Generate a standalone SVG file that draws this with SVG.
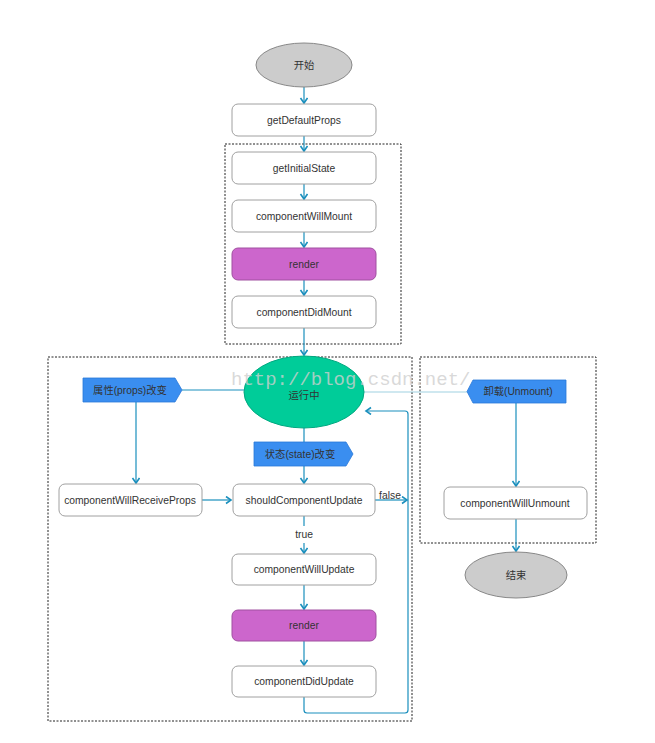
<svg xmlns="http://www.w3.org/2000/svg" width="655" height="743" viewBox="0 0 655 743">
<style>
.box{fill:#fff;stroke:#a0a0a0;stroke-width:1}
.rend{fill:#cc66cc;stroke:#a050a0;stroke-width:1}
.tag{fill:#3a8ef0;stroke:#2a78d8;stroke-width:0.8}
.t{font-family:"Liberation Sans",Arial,"Noto Sans CJK SC",sans-serif;font-size:10.3px;fill:#333;text-anchor:middle}
.dash{fill:none;stroke:#222;stroke-width:1;stroke-dasharray:2,1.5}
.c{fill:none;stroke:#1a8fbd;stroke-width:1.2}
.cl{fill:none;stroke:#9fd2e2;stroke-width:1.2}
</style>
<defs>
<marker id="a" markerWidth="10" markerHeight="10" refX="6" refY="4" orient="auto" markerUnits="userSpaceOnUse">
<path d="M1,0.5 L6,4 L1,7.5" fill="none" stroke="#1a8fbd" stroke-width="1.6"/>
</marker>
</defs>
<rect width="655" height="743" fill="#fff"/>
<rect class="dash" x="225" y="144" width="176" height="200"/>
<rect class="dash" x="48" y="357" width="364" height="364"/>
<rect class="dash" x="420" y="357" width="176" height="186"/>
<g id="connectors">
<line class="c" x1="304" y1="87" x2="304" y2="103" marker-end="url(#a)"/>
<line class="c" x1="304" y1="136" x2="304" y2="151" marker-end="url(#a)"/>
<line class="c" x1="304" y1="184" x2="304" y2="199" marker-end="url(#a)"/>
<line class="c" x1="304" y1="232" x2="304" y2="247" marker-end="url(#a)"/>
<line class="c" x1="304" y1="280" x2="304" y2="295" marker-end="url(#a)"/>
<line class="c" x1="304" y1="328" x2="304" y2="355" marker-end="url(#a)"/>
<line class="c" x1="182" y1="390" x2="244" y2="390"/>
<line class="c" x1="136" y1="402" x2="136" y2="483" marker-end="url(#a)"/>
<line class="c" x1="202" y1="500" x2="231" y2="500" marker-end="url(#a)"/>
<line class="c" x1="304" y1="428" x2="304" y2="442"/>
<line class="c" x1="304" y1="466" x2="304" y2="483" marker-end="url(#a)"/>
<line class="c" x1="375" y1="500" x2="407" y2="500" marker-end="url(#a)"/>
<line class="c" x1="304" y1="516" x2="304" y2="526"/>
<line class="c" x1="304" y1="543" x2="304" y2="553" marker-end="url(#a)"/>
<line class="c" x1="304" y1="585" x2="304" y2="609" marker-end="url(#a)"/>
<line class="c" x1="304" y1="641" x2="304" y2="665" marker-end="url(#a)"/>
<path class="c" d="M304,697 V710 Q304,713 307,713 H405 Q408,713 408,710 V414 Q408,411 405,411 H366" marker-end="url(#a)"/>
<line class="cl" x1="364" y1="392" x2="467" y2="392"/>
<line class="c" x1="516" y1="403" x2="516" y2="486" marker-end="url(#a)"/>
<line class="c" x1="516" y1="519" x2="516" y2="551" marker-end="url(#a)"/>
</g>
<g id="start"><ellipse cx="304" cy="65" rx="48" ry="22" fill="#cccccc" stroke="#888"/><text class="t" x="304" y="69">开始</text></g>
<g id="getDefaultProps"><rect class="box" x="232" y="104" width="144" height="32" rx="6"/><text class="t" x="304" y="124">getDefaultProps</text></g>
<g id="getInitialState"><rect class="box" x="232" y="152" width="144" height="32" rx="6"/><text class="t" x="304" y="172">getInitialState</text></g>
<g id="componentWillMount"><rect class="box" x="232" y="200" width="144" height="32" rx="6"/><text class="t" x="304" y="220">componentWillMount</text></g>
<g id="render1"><rect class="rend" x="232" y="248" width="144" height="32" rx="6"/><text class="t" x="304" y="268">render</text></g>
<g id="componentDidMount"><rect class="box" x="232" y="296" width="144" height="32" rx="6"/><text class="t" x="304" y="316">componentDidMount</text></g>
<g id="running"><ellipse cx="304" cy="392" rx="60" ry="36" fill="#00cc99" stroke="#00a880"/><text class="t" x="304" y="399">运行中</text></g>
<g id="propsChange"><path class="tag" d="M83,378 H175 L182,390 L175,402 H83 Z"/><text class="t" x="130" y="394">属性(props)改变</text></g>
<g id="stateChange"><path class="tag" d="M254,442 H346 L353,454 L346,466 H254 Z"/><text class="t" x="300" y="458">状态(state)改变</text></g>
<g id="componentWillReceiveProps"><rect class="box" x="59" y="484" width="143" height="32" rx="6"/><text class="t" x="130" y="504">componentWillReceiveProps</text></g>
<g id="shouldComponentUpdate"><rect class="box" x="233" y="484" width="142" height="32" rx="6"/><text class="t" x="304" y="504">shouldComponentUpdate</text></g>
<text class="t" x="390" y="499">false</text>
<text class="t" x="304" y="538">true</text>
<g id="componentWillUpdate"><rect class="box" x="232" y="554" width="144" height="31" rx="6"/><text class="t" x="304" y="573">componentWillUpdate</text></g>
<g id="render2"><rect class="rend" x="232" y="610" width="144" height="31" rx="6"/><text class="t" x="304" y="629">render</text></g>
<g id="componentDidUpdate"><rect class="box" x="232" y="666" width="144" height="31" rx="6"/><text class="t" x="304" y="685">componentDidUpdate</text></g>
<g id="unmount"><path class="tag" d="M467,391.5 L473,380 H566 V403 H473 Z"/><text class="t" x="518" y="395">卸载(Unmount)</text></g>
<g id="componentWillUnmount"><rect class="box" x="444" y="487" width="143" height="32" rx="6"/><text class="t" x="515" y="507">componentWillUnmount</text></g>
<g id="end"><ellipse cx="516" cy="575" rx="51" ry="23" fill="#cccccc" stroke="#888"/><text class="t" x="516" y="579">结束</text></g>
<text x="231" y="385" font-family="Liberation Mono,monospace" font-size="19" fill="#cfcfcf" fill-opacity="0.8">http://blog.csdn.net/</text>
</svg>
